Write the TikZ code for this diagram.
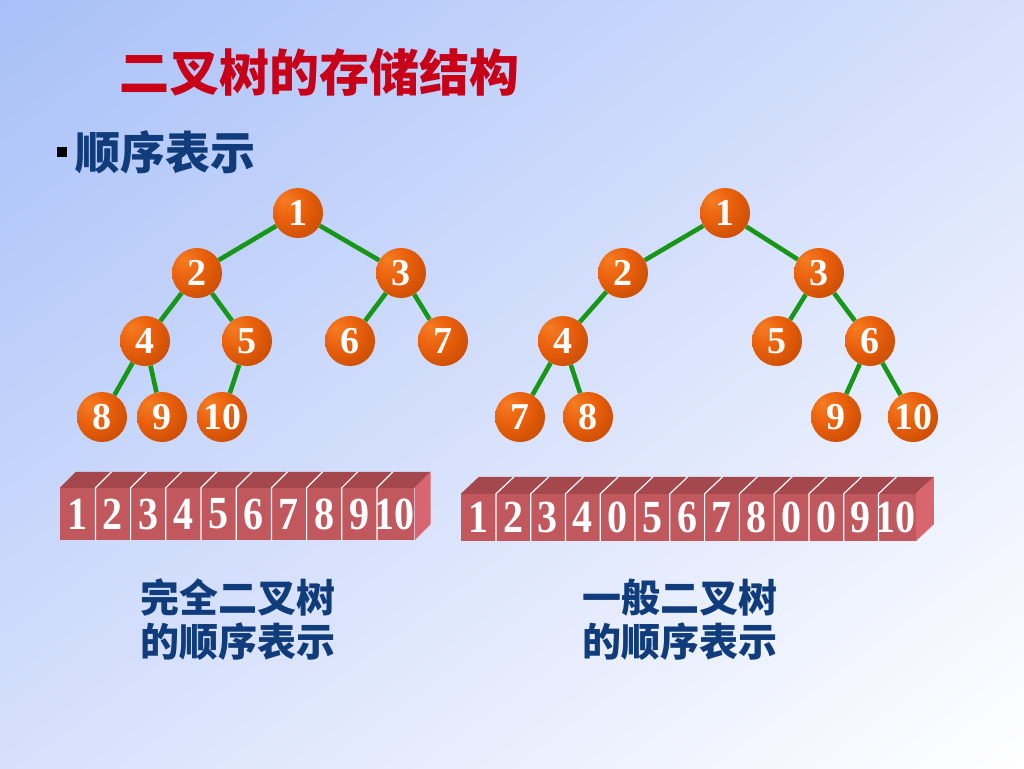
\documentclass[tikz,border=0pt]{standalone}
\usepackage{fontspec}
\setmainfont{Liberation Serif}
\newfontfamily\cjk{Noto Sans CJK SC}
\usetikzlibrary{shadings,calc}
\pgfdeclarelayer{bg}
\pgfdeclarelayer{edges}
\pgfsetlayers{bg,edges,main}
\definecolor{bgTL}{RGB}{168,192,248}
\definecolor{bgTR}{RGB}{214,224,252}
\definecolor{bgBL}{RGB}{214,224,252}
\definecolor{bgBR}{RGB}{255,255,255}
\definecolor{ballA}{RGB}{246,124,34}
\definecolor{ballB}{RGB}{234,96,12}
\definecolor{ballC}{RGB}{190,70,0}
\definecolor{ballD}{RGB}{150,52,0}
\definecolor{edgegreen}{RGB}{24,150,24}
\definecolor{frontc}{RGB}{192,88,94}
\definecolor{topc}{RGB}{164,72,78}
\definecolor{sidec}{RGB}{217,102,110}
\definecolor{titlered}{RGB}{200,0,24}
\definecolor{navy}{RGB}{16,60,124}
\pgfdeclareradialshading{oball}{\pgfpoint{-14bp}{14bp}}{%
  color(0bp)=(ballA); color(18bp)=(ballB); color(45bp)=(ballC); color(64bp)=(ballD); color(80bp)=(ballD)}
\tikzset{
  ball/.style={circle, minimum size=50pt, inner sep=0pt, shading=oball,
    text=white, font=\fontsize{38}{38}\selectfont\bfseries},
  link/.style={draw=edgegreen, line width=4.6pt},
  cellL/.style={rectangle, minimum width=35.2pt, minimum height=52pt, inner sep=0pt,
    fill=frontc, text=white, font=\fontsize{40}{40}\selectfont\bfseries},
  cellR/.style={rectangle, minimum width=34.77pt, minimum height=47pt, inner sep=0pt,
    fill=frontc, text=white, font=\fontsize{40}{40}\selectfont\bfseries},
  divider/.style={draw=white, line width=1.2pt},
  caption/.style={text=navy, font=\cjk\bfseries\fontsize{39}{44}\selectfont, inner sep=0pt, align=left}
}
\newcommand{\tallnum}[1]{\scalebox{1}[1.15]{#1}}
\begin{document}
\begin{tikzpicture}[x=1pt,y=-1pt]
\begin{pgfonlayer}{bg}
\shade[upper left=bgTL, upper right=bgTR, lower left=bgBL, lower right=bgBR] (0,0) rectangle (1024,768);
\end{pgfonlayer}
\useasboundingbox (0,0) rectangle (1024,768);

% title and heading
\node[text=titlered, font=\cjk\bfseries\fontsize{50}{50}\selectfont, inner sep=0pt] (title) at (319,72) {二叉树的存储结构};
\node[fill=black, minimum size=10pt, inner sep=0pt] (bullet) at (62,152) {};
\node[text=navy, font=\cjk\bfseries\fontsize{45}{45}\selectfont, inner sep=0pt] (head) at (165,152) {顺序表示};

% left tree
\node[ball] (a1) at (298,213) {1};
\node[ball] (a2) at (197,273) {2};
\node[ball] (a3) at (401,273) {3};
\node[ball] (a4) at (145,341) {4};
\node[ball] (a5) at (247,341) {5};
\node[ball] (a6) at (350,341) {6};
\node[ball] (a7) at (443,341) {7};
\node[ball] (a8) at (102,417) {8};
\node[ball] (a9) at (162,417) {9};
\node[ball] (a10) at (222,417) {10};
\begin{pgfonlayer}{edges}
\draw[link] (a1) -- (a2);
\draw[link] (a1) -- (a3);
\draw[link] (a2) -- (a4);
\draw[link] (a2) -- (a5);
\draw[link] (a3) -- (a6);
\draw[link] (a3) -- (a7);
\draw[link] (a4) -- (a8);
\draw[link] (a4) -- (a9);
\draw[link] (a5) -- (a10);
\end{pgfonlayer}

% right tree
\node[ball] (b1) at (725,213) {1};
\node[ball] (b2) at (623,273) {2};
\node[ball] (b3) at (819,273) {3};
\node[ball] (b4) at (563,341) {4};
\node[ball] (b5) at (777,341) {5};
\node[ball] (b6) at (870,341) {6};
\node[ball] (b7) at (520,417) {7};
\node[ball] (b8) at (588,417) {8};
\node[ball] (b9) at (836,417) {9};
\node[ball] (b10) at (913,417) {10};
\begin{pgfonlayer}{edges}
\draw[link] (b1) -- (b2);
\draw[link] (b1) -- (b3);
\draw[link] (b2) -- (b4);
\draw[link] (b3) -- (b5);
\draw[link] (b3) -- (b6);
\draw[link] (b4) -- (b7);
\draw[link] (b4) -- (b8);
\draw[link] (b6) -- (b9);
\draw[link] (b6) -- (b10);
\end{pgfonlayer}

% left array
\foreach \v [count=\i] in {1,2,3,4,5,6,7,8,9,10}{
  \node[cellL] (L\i) at ({60+35.2*(\i-0.5)},514) {\tallnum{\v}};
}
\fill[topc] (L1.north west) -- (L10.north east) -- ++(16,-16) -- ($(L1.north west)+(16,-16)$) -- cycle;
\fill[sidec] (L10.north east) -- (L10.south east) -- ++(16,-16) -- ($(L10.north east)+(16,-16)$) -- cycle;
\foreach \i in {1,...,9}{
  \draw[divider] (L\i.south east) -- (L\i.north east) -- ++(16,-16);
}

% right array
\foreach \v [count=\i] in {1,2,3,4,0,5,6,7,8,0,0,9,10}{
  \node[cellR] (R\i) at ({461+34.77*(\i-0.5)},517.5) {\tallnum{\v}};
}
\fill[topc] (R1.north west) -- (R13.north east) -- ++(18,-17) -- ($(R1.north west)+(18,-17)$) -- cycle;
\fill[sidec] (R13.north east) -- (R13.south east) -- ++(18,-17) -- ($(R13.north east)+(18,-17)$) -- cycle;
\foreach \i in {1,...,12}{
  \draw[divider] (R\i.south east) -- (R\i.north east) -- ++(18,-17);
}

% captions
\node[caption] (capL) at (238,620) {完全二叉树\\的顺序表示};
\node[caption] (capR) at (680,620) {一般二叉树\\的顺序表示};
\end{tikzpicture}
\end{document}
